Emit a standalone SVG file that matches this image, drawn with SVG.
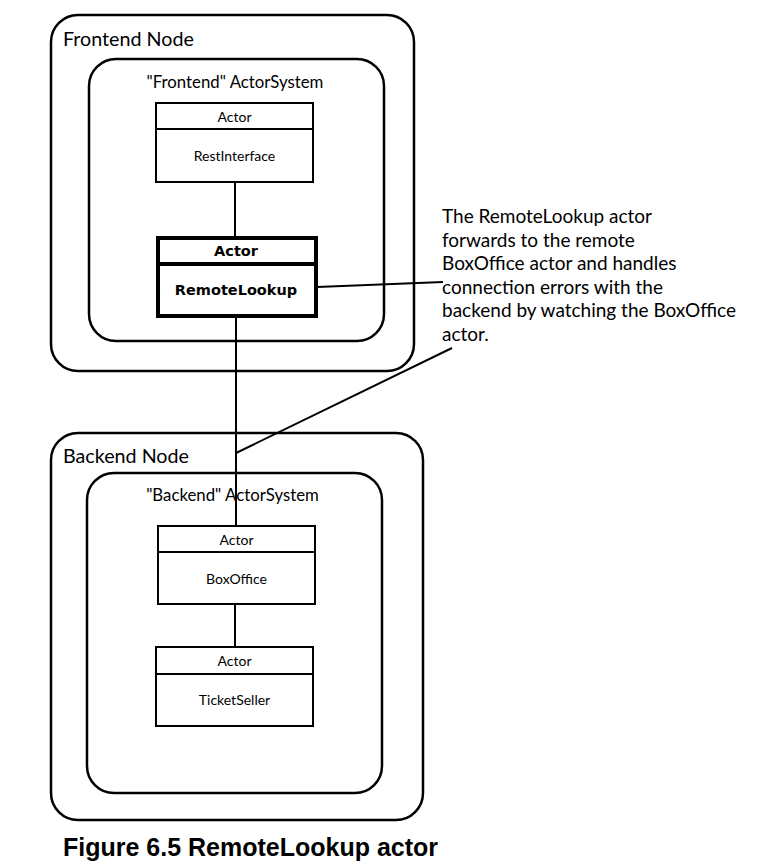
<svg xmlns="http://www.w3.org/2000/svg" width="774" height="865" viewBox="0 0 774 865">
<style>
.frame{fill:none;stroke:#000;stroke-width:2.5}
.box{fill:#fff;stroke:#000;stroke-width:2}
.boxb{fill:#fff;stroke:#000;stroke-width:4}
.ln{fill:none;stroke:#000;stroke-width:2}
.t{font-family:Lato,"Open Sans","DejaVu Sans",sans-serif;fill:#000}
.big{font-size:19.7px}
.sys{font-size:16.8px;text-anchor:middle}
.sm{font-size:14px;text-anchor:middle}
.bd{font-family:"DejaVu Sans",Lato,sans-serif;font-size:14.5px;font-weight:bold;text-anchor:middle;fill:#000}
.note{font-size:19px}
.cap{font-family:"Liberation Sans",Arial,sans-serif;font-weight:bold;font-size:25px;fill:#000}
</style>
<rect width="774" height="865" fill="#fff"/>
<g id="frontend-node">
<rect class="frame" x="51" y="15" width="363" height="356" rx="27"/>
<text class="t big" x="63" y="46">Frontend Node</text>
</g>
<g id="frontend-system">
<rect class="frame" x="89" y="59" width="295" height="282" rx="27"/>
<text class="t sys" x="235" y="88">"Frontend" ActorSystem</text>
</g>
<g id="backend-node">
<rect class="frame" x="51" y="433" width="372" height="387" rx="27"/>
<text class="t big" x="63" y="463">Backend Node</text>
</g>
<g id="backend-system">
<rect class="frame" x="87" y="473" width="295" height="320" rx="27"/>
<text class="t sys" x="232.5" y="501">"Backend" ActorSystem</text>
</g>
<g id="connectors">
<line class="ln" x1="235" y1="182" x2="235" y2="237"/>
<line class="ln" x1="236" y1="317" x2="236" y2="526"/>
<line class="ln" x1="235" y1="604" x2="235" y2="647"/>
<line class="ln" x1="317" y1="287" x2="443" y2="282"/>
<line class="ln" x1="236" y1="453" x2="452" y2="348"/>
</g>
<g id="rest-interface">
<rect class="box" x="156" y="103" width="157" height="79"/>
<line class="ln" x1="156" y1="129" x2="313" y2="129"/>
<text class="t sm" x="234.5" y="122">Actor</text>
<text class="t sm" x="234.5" y="161">RestInterface</text>
</g>
<g id="remote-lookup">
<rect class="boxb" x="158" y="238" width="158" height="78"/>
<line class="boxb" x1="158" y1="264" x2="316" y2="264"/>
<text class="bd" x="236" y="256">Actor</text>
<text class="bd" x="236" y="295">RemoteLookup</text>
</g>
<g id="box-office">
<rect class="box" x="158" y="526" width="157" height="78"/>
<line class="ln" x1="158" y1="552" x2="315" y2="552"/>
<text class="t sm" x="236.5" y="545">Actor</text>
<text class="t sm" x="236.5" y="584">BoxOffice</text>
</g>
<g id="ticket-seller">
<rect class="box" x="156" y="647" width="157" height="79"/>
<line class="ln" x1="156" y1="674" x2="313" y2="674"/>
<text class="t sm" x="234.5" y="666">Actor</text>
<text class="t sm" x="234.5" y="705">TicketSeller</text>
</g>
<g id="note">
<text class="t note" x="442" y="223">The RemoteLookup actor</text>
<text class="t note" x="442" y="246.5">forwards to the remote</text>
<text class="t note" x="442" y="270">BoxOffice actor and handles</text>
<text class="t note" x="442" y="293.5">connection errors with the</text>
<text class="t note" x="442" y="317">backend by watching the BoxOffice</text>
<text class="t note" x="442" y="340.5">actor.</text>
</g>
<text class="cap" x="63" y="856">Figure 6.5 RemoteLookup actor</text>
</svg>
